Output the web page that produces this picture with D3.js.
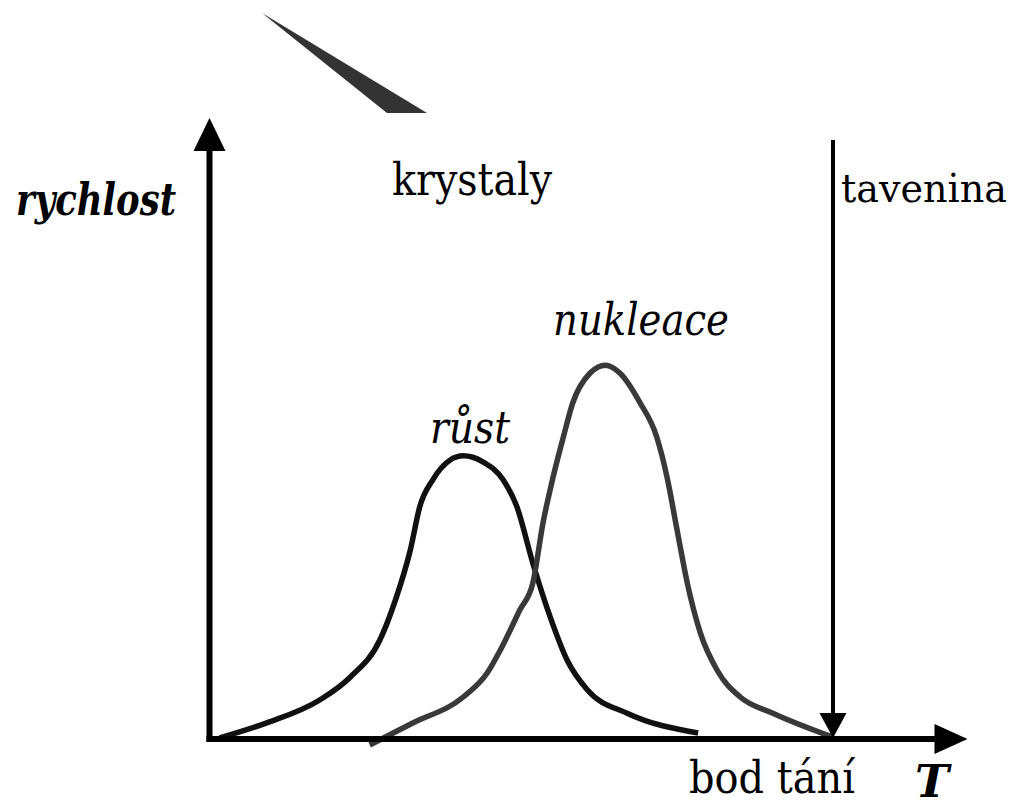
<!DOCTYPE html>
<html>
<head>
<meta charset="utf-8">
<script src="https://cdn.jsdelivr.net/npm/d3@7"></script>
<style>
  html, body { margin: 0; padding: 0; background: #fff; }
  svg { display: block; }
</style>
</head>
<body>
<svg id="chart" width="1016" height="810"></svg>
<script>
// Growth rate (růst) vs. temperature, arbitrary units
const rustT    = [1.4, 7.9, 15.2, 19.4, 23.5, 25.6, 27.7, 29.0, 30.8, 33.2, 35.0, 37.7, 40.5, 42.4, 44.6, 47.0, 49.3, 52.1, 57.6, 67.4];
const rustRate = [0.2, 2.7, 6.5, 10.3, 16.5, 23.0, 31.5, 38.7, 43.2, 46.5, 47.2, 46.2, 43.2, 38.7, 29.3, 20.3, 13.2, 8.2, 4.3, 1.0];

// Nucleation rate (nukleace) vs. temperature, arbitrary units
const nukT    = [22.1, 28.1, 35.0, 38.3, 40.1, 42.8, 44.6, 46.0, 47.4, 48.8, 50.1, 52.5, 54.6, 56.6, 59.4, 61.7, 63.1, 64.5, 65.9, 67.7, 70.0, 73.2, 77.7, 86.0];
const nukRate = [-1.0, 2.7, 7.0, 11.0, 14.8, 21.5, 26.0, 36.0, 43.7, 50.3, 56.0, 61.0, 62.3, 61.0, 56.0, 50.3, 43.7, 34.8, 26.0, 17.7, 11.5, 7.0, 4.3, 0.3];

// Melting point on the temperature axis
const meltingPoint = 86;

const FONT = "DejaVu Serif";

const svg = d3.select("#chart");

const x = d3.scaleLinear().domain([0, 100]).range([209.5, 934.5]);
const y = d3.scaleLinear().domain([0, 100]).range([739, 139]);

const line = d3.line()
  .x(d => x(d[0]))
  .y(d => y(d[1]))
  .curve(d3.curveMonotoneX);

// decorative wedge stroke at the top
svg.append("path")
  .attr("d", "M262,13 L387,113 L427,113 Z")
  .attr("fill", "#333");

// curves
svg.append("path")
  .datum(d3.zip(rustT, rustRate))
  .attr("d", line)
  .attr("fill", "none")
  .attr("stroke", "#111")
  .attr("stroke-width", 5.5)
  .attr("stroke-linejoin", "round");

svg.append("path")
  .datum(d3.zip(nukT, nukRate))
  .attr("d", line)
  .attr("fill", "none")
  .attr("stroke", "#393939")
  .attr("stroke-width", 5.5)
  .attr("stroke-linejoin", "round");

// axes
const x0 = x(0), y0 = y(0);
svg.append("line")
  .attr("x1", x0).attr("y1", y0 + 3)
  .attr("x2", x0).attr("y2", y(100) + 10)
  .attr("stroke", "#000").attr("stroke-width", 6);
svg.append("path")
  .attr("d", `M${x0},118 L${x0 - 16},151 L${x0 + 16},151 Z`)
  .attr("fill", "#000");

svg.append("line")
  .attr("x1", x0 - 3).attr("y1", y0)
  .attr("x2", x(100) + 2).attr("y2", y0)
  .attr("stroke", "#000").attr("stroke-width", 6);
svg.append("path")
  .attr("d", `M${x(100) + 33},${y0} L${x(100)},${y0 - 15} L${x(100)},${y0 + 15} Z`)
  .attr("fill", "#000");

// melting point arrow
const xm = x(meltingPoint);
svg.append("line")
  .attr("x1", xm).attr("y1", 140)
  .attr("x2", xm).attr("y2", 716)
  .attr("stroke", "#000").attr("stroke-width", 4);
svg.append("path")
  .attr("d", `M${xm},${y0 - 1} L${xm - 13.5},713 L${xm + 13.5},713 Z`)
  .attr("fill", "#000");

// labels (fitted to a fixed run length so the serif face keeps its proportions)
const label = (t, px, py, len, opts = {}) => svg.append("text")
  .attr("x", px).attr("y", py)
  .attr("textLength", len)
  .attr("lengthAdjust", "spacingAndGlyphs")
  .style("font-family", FONT)
  .style("font-size", (opts.size || 44) + "px")
  .style("font-style", opts.italic ? "italic" : "normal")
  .style("font-weight", opts.bold ? "bold" : "normal")
  .attr("fill", "#000")
  .text(t);

label("rychlost", 16, 215, 160, { italic: true, bold: true });
label("krystaly", 392, 195, 160);
label("tavenina", 841, 202, 166, { size: 39 });
label("nukleace", 553, 335, 176, { italic: true });
label("růst", 430, 443, 80, { italic: true });
label("bod tání", 689, 793, 166);
label("T", 915, 797, 34, { italic: true, bold: true });
</script>
</body>
</html>
